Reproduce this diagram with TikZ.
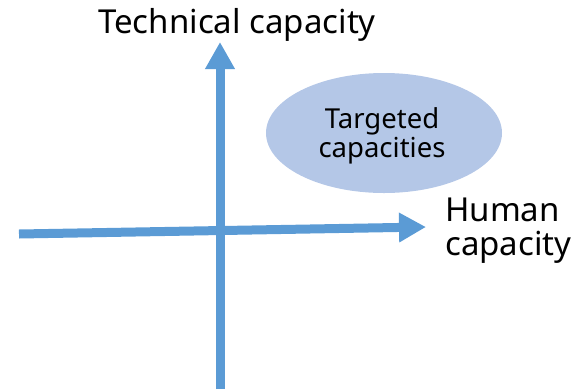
\documentclass[tikz,border=0pt]{standalone}
\usepackage{fontspec}
\setmainfont{Noto Sans}
\usetikzlibrary{arrows.meta,shapes.geometric}
\definecolor{axisblue}{HTML}{5B9BD5}
\definecolor{zonefill}{HTML}{B4C7E7}
\begin{document}
\begin{tikzpicture}[x=1pt,y=-1pt,
  axis/.style={draw=axisblue,line width=9pt,
    -{Triangle[width=28pt,length=27pt]}},
  axislabel/.style={inner sep=0pt,font=\fontsize{33}{34}\selectfont},
  zone/.style={ellipse,fill=zonefill,draw=none,inner sep=0pt,
    minimum width=236pt,minimum height=120pt},
  zonetext/.style={inner sep=0pt,align=center,
    font=\fontsize{27.5}{29}\selectfont}]
  \useasboundingbox (0,0) rectangle (586,389);
  % axis end points
  \coordinate (vbot) at (220,389);
  \coordinate (vtop) at (220,42);
  \coordinate (hleft) at (19,234);
  \coordinate (hright) at (426,227);
  % the two axes
  \draw[axis] (vbot) -- (vtop);
  \draw[axis] (hleft) -- (hright);
  % axis titles
  \node[axislabel,anchor=base] (techlabel) at (237,33) {Technical capacity};
  \node[axislabel,anchor=base west,align=left] (humanlabel) at (445,255) {Human\\capacity};
  % target region and its caption (base anchor = last line)
  \node[zone] (target) at (384,133) {};
  \node[zonetext,anchor=base] (targettext) at (382,157) {Targeted\\capacities};
\end{tikzpicture}
\end{document}
